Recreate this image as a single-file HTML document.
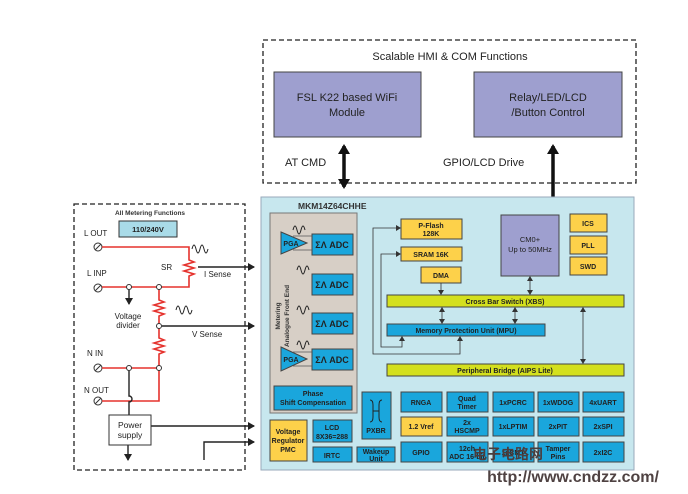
<!DOCTYPE html>
<html><head><meta charset="utf-8"><style>
body{margin:0;background:#fff}
svg{display:block;font-family:"Liberation Sans",Arial,sans-serif}
.b{fill:#1aa6dc;stroke:#444;stroke-width:1}
.y{fill:#fdd14a;stroke:#444;stroke-width:1}
.g{fill:#d4e01e;stroke:#444;stroke-width:1}
.p{fill:#9e9fcf;stroke:#444;stroke-width:1}
.t{font-size:7px;font-weight:bold;fill:#222;text-anchor:middle}
.r{stroke:#e5322d;stroke-width:1.6;fill:none}
.k{stroke:#222;stroke-width:1.4;fill:none}
</style></head><body>
<svg width="688" height="494" viewBox="0 0 688 494">
<defs>
<marker id="a" markerWidth="8" markerHeight="8" refX="6" refY="4" orient="auto" markerUnits="userSpaceOnUse"><path d="M0,0 L7,4 L0,8z" fill="#222"/></marker>
<marker id="s" markerWidth="6" markerHeight="6" refX="4" refY="3" orient="auto-start-reverse" markerUnits="userSpaceOnUse"><path d="M0,0 L5,3 L0,6z" fill="#333"/></marker>
<marker id="A" markerWidth="12" markerHeight="12" refX="8" refY="6" orient="auto-start-reverse" markerUnits="userSpaceOnUse"><path d="M0,0 L10,6 L0,12z" fill="#111"/></marker>
</defs>
<rect x="263" y="40" width="373" height="143" fill="none" stroke="#222" stroke-width="1.3" stroke-dasharray="5,3"/>
<text x="450" y="60" font-size="11" text-anchor="middle" fill="#222">Scalable HMI &amp; COM Functions</text>
<rect x="274" y="72" width="147" height="65" class="p"/>
<text x="347" y="101" font-size="11" text-anchor="middle" fill="#222">FSL K22 based WiFi</text>
<text x="347" y="116" font-size="11" text-anchor="middle" fill="#222">Module</text>
<rect x="474" y="72" width="148" height="65" class="p"/>
<text x="548" y="101" font-size="11" text-anchor="middle" fill="#222">Relay/LED/LCD</text>
<text x="548" y="116" font-size="11" text-anchor="middle" fill="#222">/Button Control</text>
<text x="285" y="166" font-size="11" fill="#222">AT CMD</text>
<text x="443" y="166" font-size="11" fill="#222">GPIO/LCD Drive</text>
<line x1="344" y1="146" x2="344" y2="187" stroke="#111" stroke-width="3.5" marker-start="url(#A)" marker-end="url(#A)"/>
<line x1="553" y1="198" x2="553" y2="146" stroke="#111" stroke-width="3.5" marker-end="url(#A)"/>
<rect x="261" y="197" width="373" height="273" fill="#c7e7ee" stroke="#9ab" stroke-width="1"/>
<text x="298" y="209" font-size="8.5" font-weight="bold" fill="#333">MKM14Z64CHHE</text>
<rect x="270" y="213" width="87" height="200" fill="#d7cfc6" stroke="#777"/>
<text transform="translate(280,316) rotate(-90)" font-size="6.5" font-weight="bold" fill="#333" text-anchor="middle">Metering</text>
<text transform="translate(289,316) rotate(-90)" font-size="6.5" font-weight="bold" fill="#333" text-anchor="middle">Analogue Front End</text>
<g font-size="9" font-weight="bold" fill="#222">
<rect x="312" y="234" width="41" height="21" class="b"/><text x="332" y="248" text-anchor="middle">ΣΛ ADC</text>
<rect x="312" y="274" width="41" height="21" class="b"/><text x="332" y="288" text-anchor="middle">ΣΛ ADC</text>
<rect x="312" y="313" width="41" height="21" class="b"/><text x="332" y="327" text-anchor="middle">ΣΛ ADC</text>
<rect x="312" y="349" width="41" height="21" class="b"/><text x="332" y="363" text-anchor="middle">ΣΛ ADC</text>
</g>
<path d="M281,232 L307,243 L281,254z" class="b"/><text x="291" y="246" font-size="7" font-weight="bold" fill="#222" text-anchor="middle">PGA</text>
<path d="M281,347 L307,359 L281,371z" class="b"/><text x="291" y="362" font-size="7" font-weight="bold" fill="#222" text-anchor="middle">PGA</text>
<path d="M293,236 L312,236 M293,250 L312,250 M293,352 L312,352 M293,366 L312,366" stroke="#555" stroke-width="0.8"/>
<g stroke="#222" stroke-width="1" fill="none">
<path d="M293,230 q2,-8 4,0 q2,8 4,0 q2,-8 4,0"/>
<path d="M297,270 q2,-8 4,0 q2,8 4,0 q2,-8 4,0"/>
<path d="M297,310 q2,-8 4,0 q2,8 4,0 q2,-8 4,0"/>
<path d="M297,345 q2,-8 4,0 q2,8 4,0 q2,-8 4,0"/>
</g>
<rect x="274" y="386" width="78" height="24" class="b"/>
<text x="313" y="396" class="t">Phase</text><text x="313" y="405" class="t">Shift Compensation</text>
<rect x="401" y="219" width="61" height="20" class="y"/><text x="431" y="228" class="t">P-Flash</text><text x="431" y="236" class="t">128K</text>
<rect x="401" y="247" width="61" height="14" class="y"/><text x="431" y="257" class="t">SRAM 16K</text>
<rect x="421" y="267" width="40" height="16" class="y"/><text x="441" y="278" class="t">DMA</text>
<rect x="501" y="215" width="58" height="61" class="p"/>
<text x="530" y="242" font-size="7.5" fill="#222" text-anchor="middle">CM0+</text>
<text x="530" y="252" font-size="7.5" fill="#222" text-anchor="middle">Up to 50MHz</text>
<rect x="570" y="214" width="37" height="18" class="y"/><text x="588" y="226" class="t">ICS</text>
<rect x="570" y="236" width="37" height="18" class="y"/><text x="588" y="248" class="t">PLL</text>
<rect x="570" y="257" width="37" height="18" class="y"/><text x="588" y="269" class="t">SWD</text>
<rect x="387" y="295" width="237" height="12" class="g"/><text x="505" y="304" class="t">Cross Bar Switch (XBS)</text>
<rect x="387" y="324" width="158" height="12" class="b"/><text x="466" y="333" class="t">Memory Protection Unit (MPU)</text>
<rect x="387" y="364" width="237" height="12" class="g"/><text x="505" y="373" class="t">Peripheral Bridge (AIPS Lite)</text>
<g stroke="#333" stroke-width="0.8" fill="none">
<path d="M441,283 L441,294" marker-end="url(#s)"/>
<path d="M530,277 L530,294" marker-start="url(#s)" marker-end="url(#s)"/>
<path d="M442,308 L442,323" marker-start="url(#s)" marker-end="url(#s)"/>
<path d="M515,308 L515,323" marker-start="url(#s)" marker-end="url(#s)"/>
<path d="M583,308 L583,363" marker-start="url(#s)" marker-end="url(#s)"/>
<path d="M402,337 L402,347 L381,347 L381,254 L400,254" marker-start="url(#s)" marker-end="url(#s)"/>
<path d="M460,337 L460,354 L373,354 L373,228 L400,228" marker-start="url(#s)" marker-end="url(#s)"/>
</g>
<rect x="270" y="420" width="37" height="41" class="y"/><text x="288" y="434" class="t">Voltage</text><text x="288" y="443" class="t">Regulator</text><text x="288" y="452" class="t">PMC</text>
<rect x="313" y="420" width="39" height="22" class="b"/><text x="332" y="430" class="t">LCD</text><text x="332" y="439" class="t" font-weight="normal">8X36=288</text>
<rect x="313" y="447" width="39" height="15" class="b"/><text x="332" y="458" class="t">IRTC</text>
<rect x="357" y="447" width="38" height="15" class="b"/><text x="376" y="454" class="t">Wakeup</text><text x="376" y="461" class="t">Unit</text>
<rect x="362" y="392" width="29" height="47" class="b"/><text x="376" y="433" class="t">PXBR</text>
<path d="M370,400 q3,0 3,5 v12 q0,5 -3,5 M382,400 q-3,0 -3,5 v12 q0,5 3,5 M373,411 h6" stroke="#222" fill="none" stroke-width="1"/>
<g>
<rect x="401" y="392" width="41" height="20" class="b"/><text x="421" y="405" class="t">RNGA</text>
<rect x="447" y="392" width="41" height="20" class="b"/><text x="467" y="401" class="t">Quad</text><text x="467" y="409" class="t">Timer</text>
<rect x="493" y="392" width="41" height="20" class="b"/><text x="513" y="405" class="t">1xPCRC</text>
<rect x="538" y="392" width="41" height="20" class="b"/><text x="558" y="405" class="t">1xWDOG</text>
<rect x="583" y="392" width="41" height="20" class="b"/><text x="603" y="405" class="t">4xUART</text>
<rect x="401" y="417" width="41" height="19" class="y"/><text x="421" y="429" class="t">1.2 Vref</text>
<rect x="447" y="417" width="41" height="19" class="b"/><text x="467" y="425" class="t">2x</text><text x="467" y="433" class="t">HSCMP</text>
<rect x="493" y="417" width="41" height="19" class="b"/><text x="513" y="429" class="t">1xLPTIM</text>
<rect x="538" y="417" width="41" height="19" class="b"/><text x="558" y="429" class="t">2xPIT</text>
<rect x="583" y="417" width="41" height="19" class="b"/><text x="603" y="429" class="t">2xSPI</text>
<rect x="401" y="442" width="41" height="20" class="b"/><text x="421" y="455" class="t">GPIO</text>
<rect x="447" y="442" width="41" height="20" class="b"/><text x="467" y="451" class="t">12ch</text><text x="467" y="459" class="t">ADC 16-bit</text>
<rect x="493" y="442" width="41" height="20" class="b"/><text x="513" y="455" class="t">1xCMT</text>
<rect x="538" y="442" width="41" height="20" class="b"/><text x="558" y="451" class="t">Tamper</text><text x="558" y="459" class="t">Pins</text>
<rect x="583" y="442" width="41" height="20" class="b"/><text x="603" y="455" class="t">2xI2C</text>
</g>
<rect x="74" y="204" width="171" height="266" fill="none" stroke="#222" stroke-width="1.3" stroke-dasharray="5,3"/>
<text x="150" y="215" font-size="6.5" font-weight="bold" fill="#333" text-anchor="middle">All Metering Functions</text>
<rect x="119" y="221" width="58" height="16" fill="#a9dbe8" stroke="#333"/>
<text x="148" y="232" font-size="7.5" font-weight="bold" fill="#222" text-anchor="middle">110/240V</text>
<g font-size="8" fill="#222">
<text x="84" y="236">L OUT</text><text x="87" y="276">L INP</text><text x="87" y="356">N IN</text><text x="84" y="393">N OUT</text>
<text x="161" y="270">SR</text><text x="204" y="277">I Sense</text><text x="192" y="337">V Sense</text>
<text x="128" y="319" text-anchor="middle">Voltage</text><text x="128" y="328" text-anchor="middle">divider</text>
</g>
<g fill="#fff" stroke="#333" stroke-width="1">
<circle cx="98" cy="247" r="4"/><circle cx="98" cy="288" r="4"/><circle cx="98" cy="368" r="4"/><circle cx="98" cy="401" r="4"/>
</g>
<g stroke="#333" stroke-width="1"><path d="M95,250 l6,-6 M95,291 l6,-6 M95,371 l6,-6 M95,404 l6,-6"/></g>
<g class="r">
<path d="M102,247 H189 V260 l5,2 -10,3 10,3 -10,3 10,3 -5,2 V287 H102"/>
<path d="M159,287 V300 l5,2 -10,3 10,3 -10,3 10,3 -5,2 V326 M159,326 V338 l5,2 -10,3 10,3 -10,3 10,3 -5,2 V368 H102"/>
<path d="M159,368 V401 H102"/>
</g>
<g fill="#fff" stroke="#333" stroke-width="1">
<circle cx="129" cy="287" r="2.5"/><circle cx="159" cy="287" r="2.5"/><circle cx="159" cy="326" r="2.5"/><circle cx="129" cy="368" r="2.5"/><circle cx="159" cy="368" r="2.5"/>
</g>
<g stroke="#222" stroke-width="1" fill="none">
<path d="M192,249 q2,-8 4,0 q2,8 4,0 q2,-8 4,0 q2,8 4,0"/>
<path d="M176,310 q2,-8 4,0 q2,8 4,0 q2,-8 4,0 q2,8 4,0"/>
</g>
<g class="k">
<path d="M129,290 V304" marker-end="url(#a)"/>
<path d="M198,267 H254" marker-end="url(#a)"/>
<path d="M162,326 H254" marker-end="url(#a)"/>
<path d="M129,371 V396 a3,3 0 0 1 0,6 V415"/>
<path d="M151,426 H254" marker-end="url(#a)"/>
<path d="M204,460 V442 H254" marker-end="url(#a)"/>
<path d="M128,445 V460" marker-end="url(#a)"/>
</g>
<rect x="109" y="415" width="42" height="30" fill="#fff" stroke="#333"/>
<text x="130" y="428" font-size="8.5" fill="#222" text-anchor="middle">Power</text>
<text x="130" y="438" font-size="8.5" fill="#222" text-anchor="middle">supply</text>
<text x="508" y="459" font-size="14" font-weight="bold" fill="#4a3d3d" text-anchor="middle" style="font-family:'Liberation Sans','Noto Sans CJK SC',sans-serif">电子电路网</text>
<text x="573" y="482" font-size="16" font-weight="bold" fill="#4f4242" text-anchor="middle">http://www.cndzz.com/</text>
</svg>
</body></html>
